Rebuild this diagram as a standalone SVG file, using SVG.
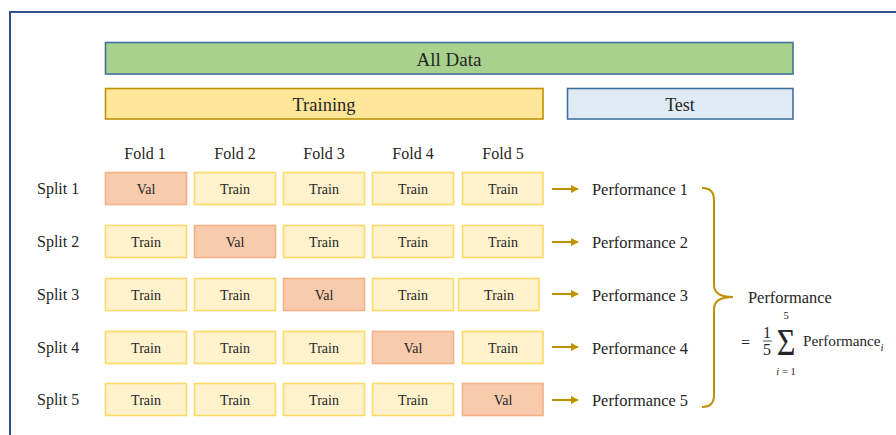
<svg xmlns="http://www.w3.org/2000/svg" width="896" height="435" viewBox="0 0 896 435">
<defs>
<style>
text{font-family:"Liberation Serif","Times New Roman",serif;fill:#262626}
.train{fill:#FFF2CC;stroke:#FFD966;stroke-width:1.6}
.val{fill:#F8CBAD;stroke:#F4B183;stroke-width:1.6}
.ct{font-size:14px;text-anchor:middle}
.lbl{font-size:16px}
.big{font-size:18.5px;text-anchor:middle}
.arr{stroke:#BF9000;stroke-width:2;fill:none;marker-end:url(#ah)}
</style>
<marker id="ah" viewBox="0 0 10 10" refX="9" refY="5" markerWidth="4" markerHeight="4" orient="auto" markerUnits="strokeWidth">
<path d="M0,0 L10,5 L0,10 z" fill="#BF9000"/>
</marker>
</defs>
<rect width="896" height="435" fill="#fff"/>
<rect x="10" y="12" width="900" height="440" fill="none" stroke="#2F528F" stroke-width="2"/>

<g id="alldata"><rect x="105.5" y="42.5" width="687.5" height="31.5" fill="#A9D18E" stroke="#41719C" stroke-width="1.6"/><text class="big" x="449" y="66" style="font-size:19px">All Data</text></g>
<g id="training"><rect x="105.5" y="88.5" width="437.5" height="30.5" fill="#FFE699" stroke="#BF9000" stroke-width="1.6"/><text class="big" x="324" y="111">Training</text></g>
<g id="test"><rect x="567.5" y="88.5" width="225.5" height="30.5" fill="#DEEBF7" stroke="#41719C" stroke-width="1.6"/><text class="big" x="680" y="111" style="font-size:18px">Test</text></g>

<g id="folds" class="lbl">
<text x="145" y="159" text-anchor="middle">Fold 1</text>
<text x="235" y="159" text-anchor="middle">Fold 2</text>
<text x="324" y="159" text-anchor="middle">Fold 3</text>
<text x="413" y="159" text-anchor="middle">Fold 4</text>
<text x="503" y="159" text-anchor="middle">Fold 5</text>
</g>

<g id="split1">
<text class="lbl" x="37" y="194">Split 1</text>
<rect class="val" x="105.5" y="172.5" width="81" height="32"/><text class="ct" x="146" y="194">Val</text>
<rect class="train" x="194.5" y="172.5" width="81" height="32"/><text class="ct" x="235" y="194">Train</text>
<rect class="train" x="283.5" y="172.5" width="81" height="32"/><text class="ct" x="324" y="194">Train</text>
<rect class="train" x="372.5" y="172.5" width="81" height="32"/><text class="ct" x="413" y="194">Train</text>
<rect class="train" x="462.5" y="172.5" width="80.5" height="32"/><text class="ct" x="503" y="194">Train</text>
<text class="lbl" x="592" y="195" style="font-size:16.4px">Performance 1</text>
</g>
<g id="split2">
<text class="lbl" x="37" y="247">Split 2</text>
<rect class="train" x="105.5" y="225.5" width="81" height="32"/><text class="ct" x="146" y="247">Train</text>
<rect class="val" x="194.5" y="225.5" width="81" height="32"/><text class="ct" x="235" y="247">Val</text>
<rect class="train" x="283.5" y="225.5" width="81" height="32"/><text class="ct" x="324" y="247">Train</text>
<rect class="train" x="372.5" y="225.5" width="81" height="32"/><text class="ct" x="413" y="247">Train</text>
<rect class="train" x="462.5" y="225.5" width="80.5" height="32"/><text class="ct" x="503" y="247">Train</text>
<text class="lbl" x="592" y="248" style="font-size:16.4px">Performance 2</text>
</g>
<g id="split3">
<text class="lbl" x="37" y="300">Split 3</text>
<rect class="train" x="105.5" y="278.5" width="81" height="32"/><text class="ct" x="146" y="300">Train</text>
<rect class="train" x="194.5" y="278.5" width="81" height="32"/><text class="ct" x="235" y="300">Train</text>
<rect class="val" x="283.5" y="278.5" width="81" height="32"/><text class="ct" x="324" y="300">Val</text>
<rect class="train" x="372.5" y="278.5" width="81" height="32"/><text class="ct" x="413" y="300">Train</text>
<rect class="train" x="458.5" y="278.5" width="80.5" height="32"/><text class="ct" x="499" y="300">Train</text>
<text class="lbl" x="592" y="301" style="font-size:16.4px">Performance 3</text>
</g>
<g id="split4">
<text class="lbl" x="37" y="353">Split 4</text>
<rect class="train" x="105.5" y="331.5" width="81" height="32"/><text class="ct" x="146" y="353">Train</text>
<rect class="train" x="194.5" y="331.5" width="81" height="32"/><text class="ct" x="235" y="353">Train</text>
<rect class="train" x="283.5" y="331.5" width="81" height="32"/><text class="ct" x="324" y="353">Train</text>
<rect class="val" x="372.5" y="331.5" width="81" height="32"/><text class="ct" x="413" y="353">Val</text>
<rect class="train" x="462.5" y="331.5" width="80.5" height="32"/><text class="ct" x="503" y="353">Train</text>
<text class="lbl" x="592" y="354" style="font-size:16.4px">Performance 4</text>
</g>
<g id="split5">
<text class="lbl" x="37" y="405">Split 5</text>
<rect class="train" x="105.5" y="383.5" width="81" height="32"/><text class="ct" x="146" y="405">Train</text>
<rect class="train" x="194.5" y="383.5" width="81" height="32"/><text class="ct" x="235" y="405">Train</text>
<rect class="train" x="283.5" y="383.5" width="81" height="32"/><text class="ct" x="324" y="405">Train</text>
<rect class="train" x="372.5" y="383.5" width="81" height="32"/><text class="ct" x="413" y="405">Train</text>
<rect class="val" x="462.5" y="383.5" width="80.5" height="32"/><text class="ct" x="503" y="405">Val</text>
<text class="lbl" x="592" y="406" style="font-size:16.4px">Performance 5</text>
</g>

<g id="connectors">
<line class="arr" x1="552" y1="189" x2="578" y2="189"/>
<line class="arr" x1="552" y1="242" x2="578" y2="242"/>
<line class="arr" x1="552" y1="294" x2="578" y2="294"/>
<line class="arr" x1="552" y1="347" x2="578" y2="347"/>
<line class="arr" x1="552" y1="400" x2="578" y2="400"/>
<path d="M702,188 Q714,188 714,200 L714,285 Q714,297 733,297 Q714,297 714,309 L714,395 Q714,407 702,407" fill="none" stroke="#BF9000" stroke-width="2"/>
</g>

<g id="result">
<text class="lbl" x="748" y="303" style="font-size:16.4px">Performance</text>
<text class="lbl" x="741" y="348">=</text>
<text class="lbl" x="767" y="338" text-anchor="middle">1</text>
<line x1="763" y1="341" x2="772" y2="341" stroke="#262626" stroke-width="0.8"/>
<text class="lbl" x="767" y="355" text-anchor="middle">5</text>
<text x="786" y="355" text-anchor="middle" style="font-size:32px" transform="translate(786 355) scale(1 1.2) translate(-786 -355)">Σ</text>
<text x="786" y="319" text-anchor="middle" style="font-size:10.5px">5</text>
<text x="786" y="375" text-anchor="middle" style="font-size:10.5px"><tspan font-style="italic">i</tspan> = 1</text>
<text x="803" y="346" style="font-size:15.2px">Performance<tspan font-style="italic" font-size="11px" dy="5">i</tspan></text>
</g>
</svg>
